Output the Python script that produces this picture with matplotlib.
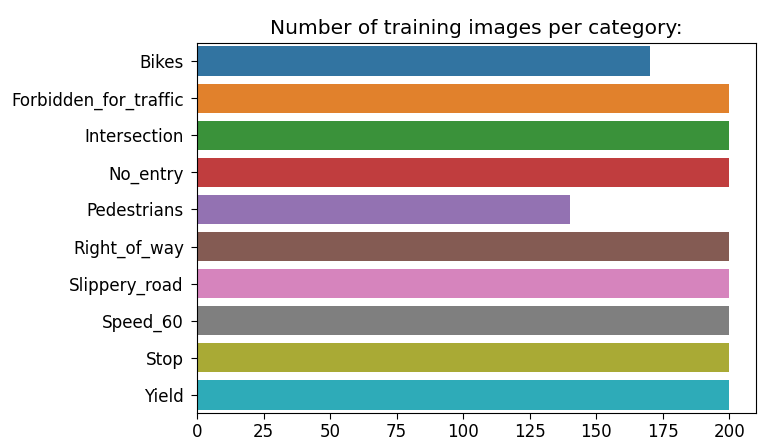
import matplotlib
matplotlib.use("Agg")
import matplotlib.pyplot as plt
import seaborn as sns

categories = ["Bikes", "Forbidden_for_traffic", "Intersection", "No_entry",
              "Pedestrians", "Right_of_way", "Slippery_road", "Speed_60",
              "Stop", "Yield"]
counts = [170, 200, 200, 200, 140, 200, 200, 200, 200, 200]
xticks = [0, 25, 50, 75, 100, 125, 150, 175, 200]

colors = sns.color_palette("tab10", n_colors=10, desat=0.75)

fig = plt.figure(figsize=(7.68, 4.41), dpi=100)
ax = fig.add_axes([0.2565, 0.063, 0.728, 0.840])
y = list(range(len(categories)))
ax.barh(y, counts, height=0.8, color=colors)
ax.set_yticks(y)
ax.set_yticklabels(categories, fontsize=12.1)
ax.set_ylim(len(categories) - 0.5, -0.5)
ax.set_xlim(0, 210)
ax.set_xticks(xticks)
ax.set_xticklabels([str(t) for t in xticks], fontsize=12.1)
ax.tick_params(axis="y", length=4, pad=5.5)
ax.tick_params(axis="x", length=4, pad=3)
ax.set_title("Number of training images per category:", fontsize=14.5, pad=6)
fig.savefig("out.png", dpi=100)
